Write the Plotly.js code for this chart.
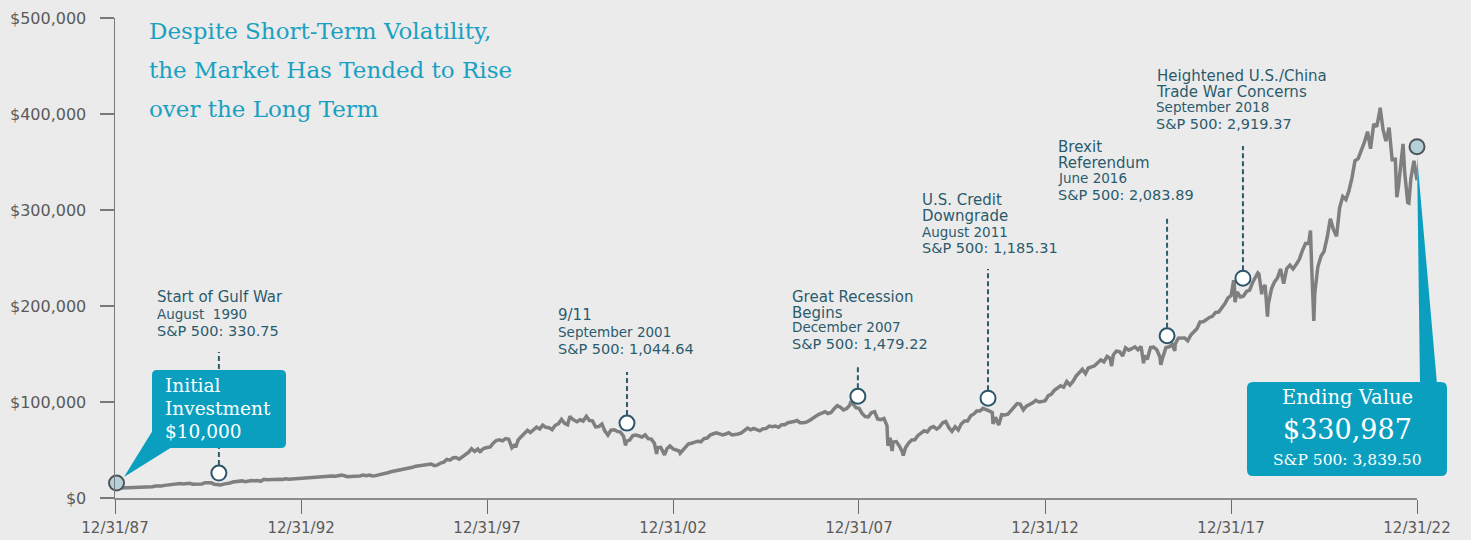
<!DOCTYPE html>
<html><head><meta charset="utf-8">
<script src="https://cdn.plot.ly/plotly-3.0.1.min.js"></script>
<style>html,body{margin:0;padding:0;background:#ebebeb;}#chart{width:1471px;height:540px;}</style>
</head><body><div id="chart"></div>
<script>
// ---- DATA (growth of $10,000) ----
const dates = [
"1987-12-31",
"1988-02","1988-03","1988-04","1988-05","1988-06","1988-07","1988-08","1988-09","1988-10","1988-11","1988-12","1989-01",
"1989-02","1989-03","1989-04","1989-05","1989-06","1989-07","1989-08","1989-09","1989-10","1989-11","1989-12","1990-01",
"1990-02","1990-03","1990-04","1990-05","1990-06","1990-07","1990-08","1990-09","1990-10","1990-10-11","1990-11","1990-12","1991-01",
"1991-02","1991-03","1991-04","1991-05","1991-06","1991-07","1991-08","1991-09","1991-10","1991-11","1991-12","1992-01",
"1992-02","1992-03","1992-04","1992-05","1992-06","1992-07","1992-08","1992-09","1992-10","1992-11","1992-12","1993-01",
"1993-02","1993-03","1993-04","1993-05","1993-06","1993-07","1993-08","1993-09","1993-10","1993-11","1993-12","1994-01",
"1994-02","1994-03","1994-04","1994-05","1994-06","1994-07","1994-08","1994-09","1994-10","1994-11","1994-12","1995-01",
"1995-02","1995-03","1995-04","1995-05","1995-06","1995-07","1995-08","1995-09","1995-10","1995-11","1995-12","1996-01",
"1996-02","1996-03","1996-04","1996-05","1996-06","1996-07","1996-08","1996-09","1996-10","1996-11","1996-12","1997-01",
"1997-02","1997-03","1997-04","1997-05","1997-06","1997-07","1997-08","1997-09","1997-10","1997-10-27","1997-11","1997-12","1998-01",
"1998-02","1998-03","1998-04","1998-05","1998-06","1998-07","1998-08","1998-09","1998-10","1998-10-08","1998-11","1998-12","1999-01",
"1999-02","1999-03","1999-04","1999-05","1999-06","1999-07","1999-08","1999-09","1999-10","1999-11","1999-12","2000-01",
"2000-02","2000-03","2000-03-24","2000-04","2000-05","2000-06","2000-07","2000-08","2000-09","2000-10","2000-11","2000-12","2001-01",
"2001-02","2001-03","2001-04","2001-05","2001-06","2001-07","2001-08","2001-09","2001-09-21","2001-10","2001-11","2001-12","2002-01",
"2002-02","2002-03","2002-04","2002-05","2002-06","2002-07","2002-07-23","2002-08","2002-09","2002-10","2002-10-09","2002-11","2002-12","2003-01",
"2003-02","2003-03","2003-03-11","2003-04","2003-05","2003-06","2003-07","2003-08","2003-09","2003-10","2003-11","2003-12","2004-01",
"2004-02","2004-03","2004-04","2004-05","2004-06","2004-07","2004-08","2004-09","2004-10","2004-11","2004-12","2005-01",
"2005-02","2005-03","2005-04","2005-05","2005-06","2005-07","2005-08","2005-09","2005-10","2005-11","2005-12","2006-01",
"2006-02","2006-03","2006-04","2006-05","2006-06","2006-07","2006-08","2006-09","2006-10","2006-11","2006-12","2007-01",
"2007-02","2007-03","2007-04","2007-05","2007-06","2007-07","2007-08","2007-09","2007-10","2007-10-09","2007-11","2007-12","2008-01",
"2008-02","2008-03","2008-04","2008-05","2008-06","2008-07","2008-08","2008-09","2008-10","2008-10-10","2008-11","2008-11-20","2008-12","2009-01",
"2009-02","2009-03","2009-03-09","2009-04","2009-05","2009-06","2009-07","2009-08","2009-09","2009-10","2009-11","2009-12","2010-01",
"2010-02","2010-03","2010-04","2010-05","2010-06","2010-07","2010-08","2010-09","2010-10","2010-11","2010-12","2011-01",
"2011-02","2011-03","2011-04","2011-05","2011-06","2011-07","2011-08","2011-08-08","2011-09","2011-10","2011-10-03","2011-11","2011-12","2012-01",
"2012-02","2012-03","2012-04","2012-05","2012-06","2012-07","2012-08","2012-09","2012-10","2012-11","2012-12","2013-01",
"2013-02","2013-03","2013-04","2013-05","2013-06","2013-07","2013-08","2013-09","2013-10","2013-11","2013-12","2014-01",
"2014-02","2014-03","2014-04","2014-05","2014-06","2014-07","2014-08","2014-09","2014-10","2014-10-15","2014-11","2014-12","2015-01",
"2015-02","2015-03","2015-04","2015-05","2015-06","2015-07","2015-08","2015-08-25","2015-09","2015-10","2015-11","2015-12","2016-01",
"2016-02","2016-02-11","2016-03","2016-04","2016-05","2016-06","2016-06-27","2016-07","2016-08","2016-09","2016-10","2016-11","2016-12","2017-01",
"2017-02","2017-03","2017-04","2017-05","2017-06","2017-07","2017-08","2017-09","2017-10","2017-11","2017-12","2018-01",
"2018-01-26","2018-02","2018-02-08","2018-03","2018-04","2018-05","2018-06","2018-07","2018-08","2018-09","2018-09-20","2018-10","2018-10-29","2018-11","2018-12","2018-12-24","2019-01",
"2019-02","2019-03","2019-04","2019-05","2019-06","2019-07","2019-08","2019-09","2019-10","2019-11","2019-12","2020-01",
"2020-02","2020-02-19","2020-03","2020-03-23","2020-04","2020-05","2020-06","2020-07","2020-08","2020-09","2020-10","2020-11","2020-12","2021-01",
"2021-02","2021-03","2021-04","2021-05","2021-06","2021-07","2021-08","2021-09","2021-10","2021-11","2021-12","2022-01",
"2022-01-03","2022-02","2022-03","2022-04","2022-05","2022-06","2022-06-16","2022-07","2022-08","2022-08-16","2022-09","2022-10","2022-10-12","2022-11","2022-12","2022-12-31"
];
const values = [
10000,
10440,10910,10580,10710,10780,11280,11250,10850,11310,11640,11460,11660,
12530,12200,12490,13150,13650,13580,14830,15100,15050,14710,14990,15360,
14340,14510,14910,14550,15940,15850,15810,14360,13670,13220,13620,14480,14880,
15540,16630,17050,17100,17810,17000,17810,18210,17910,18170,17420,19410,
19070,19310,18930,19500,19580,19280,20090,19660,19890,19980,20630,20890,
21090,21360,21810,21310,21840,21910,21840,22650,22470,22960,22720,23000,
23800,23140,22140,22450,22780,22220,22970,23890,23310,23850,22960,23300,
23920,24830,25570,26340,27350,27990,28940,28990,30220,30130,31440,32050,
33160,33450,33780,34300,35150,35290,33740,34440,36370,37390,40200,39420,
41900,42200,40470,42890,45480,47520,51310,48440,51090,47360,49400,51680,52570,
53170,56990,59900,60530,59460,61880,61250,52380,55710,52580,60260,63900,67600,
70440,68240,70960,73730,71960,75970,73600,73220,71200,75740,77250,81810,
77720,76230,85300,83680,81190,79480,81470,80210,85160,80690,80360,74010,74370,
77030,69990,65580,70700,71130,69420,68750,64410,54920,59220,60360,64960,65520,
64590,63340,65760,61800,61330,56960,45950,52530,52860,47110,44920,51250,54250,51050,
49730,48960,46630,49430,53520,56330,57060,58060,59190,58580,61890,62410,65680,
66920,67820,66820,65790,66680,67970,65740,65980,66700,67720,70440,72820,
71090,72550,71270,69950,72160,72250,74970,74240,74870,73650,76370,76410,
78480,78650,79630,80730,78370,78500,79020,80820,82950,85690,87230,88470,
89860,88040,89050,93050,96230,94670,91790,93110,96590,99100,98170,93990,93330,
87800,84920,84570,88780,89910,82340,81680,82840,75480,54420,62820,48850,58220,58790,
53870,48040,44240,52250,57270,60430,60570,65200,67510,70060,68820,72910,74360,
71730,73890,78370,79660,73250,69420,74310,70900,77250,80230,80170,85550,
87640,90600,90660,93410,92310,90780,88990,77200,84080,78180,75940,86750,86460,87350,
91330,95230,98400,97840,91880,95710,97090,99190,101790,99970,100440,101330,
106640,108010,112090,114320,116910,115360,121270,117690,121410,127050,130830,134150,
129610,135430,136600,137680,140830,143740,141830,147410,145380,137400,149000,152920,152520,
148050,156450,154000,155580,157490,154440,157790,140350,148170,144500,156770,157110,154620,
147050,138750,146710,156680,157400,160100,153200,160550,166560,166660,166740,163800,169700,173110,
176500,183370,183610,185590,188050,189270,193250,193680,197750,202470,208500,210890,
226900,223110,204050,214770,209340,210260,215150,216550,224710,231920,234500,233290,212100,217450,221700,189050,201680,
217920,224770,229190,238580,223280,239080,242610,238630,243110,248510,257370,265180,
265170,278580,243220,184360,213130,240510,251790,256800,271370,290840,279840,272520,302260,313970,
310840,319340,333290,351180,353520,361810,370440,381630,363900,389530,386730,404080,
406660,383370,371870,385720,352240,352760,313250,323610,353600,368830,339060,307790,307260,332840,351220,330987
];

const eventDates  = ["1990-10-16","2001-10-05","2007-12-20","2011-06-20","2016-04-12","2018-04-27"];
const eventValues = [26000, 78000, 106000, 104000, 169000, 229000];
const eventHeads  = [["Start of Gulf War"],["9/11"],["Great Recession","Begins"],["U.S. Credit","Downgrade"],["Brexit","Referendum"],["Heightened U.S./China","Trade War Concerns"]];
const eventMonths = ["August\u00A0 1990","September 2001","December 2007","August 2011","June 2016","September 2018"];
const eventIndex  = ["S&P 500: 330.75","S&P 500: 1,044.64","S&P 500: 1,479.22","S&P 500: 1,185.31","S&P 500: 2,083.89","S&P 500: 2,919.37"];

const endpointDates  = ["1988-01-15","2022-12-31"];
const endpointValues = [15600, 366000];

const tickDates  = ["1987-12-31","1992-12-31","1997-12-31","2002-12-31","2007-12-31","2012-12-31","2017-12-31","2022-12-31"];
const tickLabels = ["12/31/87","12/31/92","12/31/97","12/31/02","12/31/07","12/31/12","12/31/17","12/31/22"];
const yTicks      = [0,100000,200000,300000,400000,500000];
const yTickLabels = ["$0","$100,000","$200,000","$300,000","$400,000","$500,000"];

const titleLines = ["Despite Short-Term Volatility,","the Market Has Tended to Rise","over the Long Term"];
const initialLines = ["Initial","Investment","$10,000"];
const endingLines = ["Ending Value","$330,987","S&P 500: 3,839.50"];

// ---- LAYOUT helpers (pixel geometry) ----
const L=115, R=1417, T=18, B=498, YMAX=500000;
const fx = px => (px-L)/(R-L);
const fy = py => (B-py)/(B-T);
const pyToVal = py => fy(py)*YMAX;

const SANS = "DejaVu Sans", SERIF = "DejaVu Serif";
const TEAL_TXT = "#2b5b6b", BOX = "#0a9fbf", TITLE = "#1aa0c1";

const annotations = [];
function label(xpx, basePx, text, size, family, color, anchor){
  const k = family===SERIF ? 0.36 : 0.38;
  annotations.push({xref:"paper", yref:"paper", x: fx(xpx), y: fy(basePx - k*size),
    xanchor: anchor||"left", yanchor:"middle", showarrow:false, text:text,
    font:{family:family, size:size, color:color}, borderpad:0});
}
// two tightly spaced lines in one text (line pitch = 1.3 * base size)
function label2(xpx, base1, lines, size, family, color){
  const pitch = 15.5, base = pitch/1.3;
  const center = (base1 + base1 + pitch)/2 - 0.346*size;
  annotations.push({xref:"paper", yref:"paper", x: fx(xpx), y: fy(center),
    xanchor:"left", yanchor:"middle", align:"left", showarrow:false,
    text: lines.map(t=>"<span style='font-size:"+size+"px'>"+t+"</span>").join("<br>"),
    font:{family:family, size:base, color:color}, borderpad:0});
}

// title
const titleBase=[39,78,117];
titleLines.forEach((t,i)=>label(148, titleBase[i], t, 23, SERIF, TITLE));

// event labels
const evLeft = [156, 557, 791, 921, 1057, 1155];
const evHeadBase = [303, 320.5, 302, 205, 152, 81];
const evMonthBase = [319, 337, 332.5, 237, 183, 112];
const evIndexBase = [337, 355, 350, 254, 201, 130];
const evTop = [352, 372, 367, 269, 217, 146];
eventHeads.forEach((heads,i)=>{
  if (heads.length===1) label(evLeft[i], evHeadBase[i], heads[0], 15, SANS, TEAL_TXT);
  else label2(evLeft[i], evHeadBase[i], heads, 15, SANS, TEAL_TXT);
  label(evLeft[i], evMonthBase[i], eventMonths[i], 13.5, SANS, TEAL_TXT);
  label(evLeft[i], evIndexBase[i], eventIndex[i], 14.5, SANS, TEAL_TXT);
});

// box texts
const initBase=[392,415,438];
initialLines.forEach((t,i)=>label(164, initBase[i], t, 18.5, SERIF, "#ffffff"));
label(1347, 405, endingLines[0], 19.5, SERIF, "#ffffff", "center");
label(1347, 439, endingLines[1], 27, SERIF, "#ffffff", "center");
label(1347, 466, endingLines[2], 15.5, SERIF, "#ffffff", "center");

// shapes
const shapes = [];
eventDates.forEach((d,i)=>{
  shapes.push({type:"line", xref:"x", yref:"y", x0:d, x1:d, y0:eventValues[i], y1:pyToVal(evTop[i]),
    line:{color:"#2d5a6d", width:2, dash:"5px,3px"}, layer:"below"});
});
function pt(x,y){return fx(x).toFixed(5)+","+fy(y).toFixed(5);}
function roundRect(x0,y0,x1,y1,r){
  return "M"+pt(x0+r,y0)+" L"+pt(x1-r,y0)+" Q"+pt(x1,y0)+" "+pt(x1,y0+r)+
    " L"+pt(x1,y1-r)+" Q"+pt(x1,y1)+" "+pt(x1-r,y1)+
    " L"+pt(x0+r,y1)+" Q"+pt(x0,y1)+" "+pt(x0,y1-r)+
    " L"+pt(x0,y0+r)+" Q"+pt(x0,y0)+" "+pt(x0+r,y0)+" Z";
}
function poly(points){return "M"+points.map(p=>pt(p[0],p[1])).join(" L")+" Z";}
[ poly([[153,430],[124,477],[172,447]]),
  roundRect(152,370,286,448,5),
  poly([[1417,156],[1420,384],[1437,384]]),
  roundRect(1247,382,1447,476,6)
].forEach(p=>shapes.push({type:"path", xref:"paper", yref:"paper", path:p, fillcolor:BOX, line:{width:0}, layer:"above"}));

const traces = [
  {x:dates, y:values, type:"scatter", mode:"lines", line:{color:"#7f7f7f", width:3.5}, hoverinfo:"skip"},
  {x:eventDates, y:eventValues, type:"scatter", mode:"markers", cliponaxis:false,
   marker:{size:15, color:"#ffffff", line:{color:"#2b566a", width:2}}},
  {x:endpointDates, y:endpointValues, type:"scatter", mode:"markers", cliponaxis:false,
   marker:{size:15, color:"#b5d1d7", line:{color:"#4d5659", width:2}}}
];

const layout = {
  width:1471, height:540, showlegend:false,
  paper_bgcolor:"#ebebeb", plot_bgcolor:"#ebebeb",
  margin:{l:L, r:1471-R, t:T, b:540-B},
  font:{family:SANS, color:"#5a5a5a"},
  xaxis:{type:"date", range:["1987-12-31","2022-12-31"], tickvals:tickDates, ticktext:tickLabels,
    showgrid:false, zeroline:false, showline:true, linecolor:"#8c8c8c", linewidth:2,
    ticks:"outside", ticklen:14, tickwidth:1, tickcolor:"#6a6a6a",
    tickfont:{family:SANS, size:15, color:"#5a5a5a"}, ticklabelstandoff:1},
  yaxis:{range:[0,YMAX], tickvals:yTicks, ticktext:yTickLabels,
    showgrid:false, zeroline:false, showline:true, linecolor:"#7a7a7a", linewidth:1.5,
    ticks:"outside", ticklen:14, tickwidth:1.5, tickcolor:"#7a7a7a",
    tickfont:{family:SANS, size:16, color:"#5a5a5a"}, ticklabelstandoff:10},
  shapes:shapes, annotations:annotations
};
Plotly.newPlot("chart", traces, layout, {staticPlot:true, displayModeBar:false});
</script></body></html>
